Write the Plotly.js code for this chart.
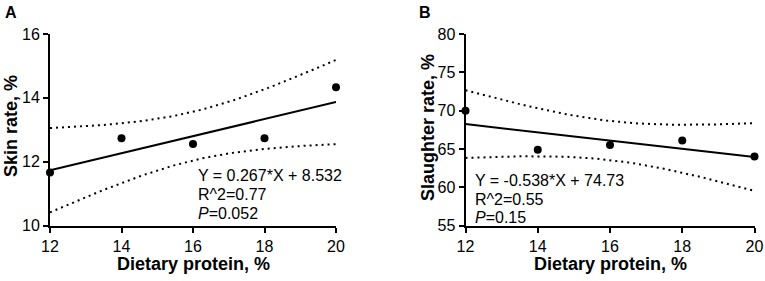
<!DOCTYPE html>
<html>
<head>
<meta charset="utf-8">
<script src="https://cdn.plot.ly/plotly-3.0.1.min.js"></script>
<style>
html,body{margin:0;padding:0;background:#fff;}
#chart{width:765px;height:281px;}
</style>
</head>
<body>
<div id="chart"></div>
<script>
// ---- data ----
const proteinLevels = [12, 14, 16, 18, 20];
const skinRate = [11.66, 12.73, 12.55, 12.73, 14.33];
const slaughterRate = [69.97, 64.9, 65.5, 66.1, 64.0];

const panelLabels = ['A', 'B'];
const xTitle = 'Dietary protein, %';
const yTitles = ['Skin rate, %', 'Slaughter rate, %'];
const statsA = ['Y = 0.267*X + 8.532', 'R^2=0.77', '<i>P</i>=0.052'];
const statsB = ['Y = -0.538*X + 74.73', 'R^2=0.55', '<i>P</i>=0.15'];
const xTicks = [12, 14, 16, 18, 20];
const yTicksA = [10, 12, 14, 16];
const yTicksB = [55, 60, 65, 70, 75, 80];

// ---- linear regression with 95% confidence band (t, df=3) ----
const T_975_DF3 = 3.182;
function fit(x, y) {
  const n = x.length;
  const mx = x.reduce((a, b) => a + b, 0) / n;
  const my = y.reduce((a, b) => a + b, 0) / n;
  let sxx = 0, sxy = 0;
  for (let i = 0; i < n; i++) { sxx += (x[i] - mx) ** 2; sxy += (x[i] - mx) * (y[i] - my); }
  const b = sxy / sxx, a = my - b * mx;
  let sse = 0;
  for (let i = 0; i < n; i++) sse += (y[i] - (a + b * x[i])) ** 2;
  const s = Math.sqrt(sse / (n - 2));
  const gx = [], gy = [], lo = [], hi = [];
  const x0 = Math.min(...x), x1 = Math.max(...x);
  const steps = 80;
  for (let k = 0; k <= steps; k++) {
    const xv = x0 + (x1 - x0) * k / steps;
    const yv = a + b * xv;
    const hw = T_975_DF3 * s * Math.sqrt(1 / n + (xv - mx) ** 2 / sxx);
    gx.push(xv); gy.push(yv); lo.push(yv - hw); hi.push(yv + hw);
  }
  return {gx, gy, lo, hi};
}

function traces(x, y, xa, ya) {
  const f = fit(x, y);
  const dotted = {color: '#000', width: 2, dash: '2px,4px'};
  return [
    {x: f.gx, y: f.hi, xaxis: xa, yaxis: ya, mode: 'lines', line: dotted, cliponaxis: false, hoverinfo: 'skip'},
    {x: f.gx, y: f.lo, xaxis: xa, yaxis: ya, mode: 'lines', line: dotted, cliponaxis: false, hoverinfo: 'skip'},
    {x: [f.gx[0], f.gx[f.gx.length - 1]], y: [f.gy[0], f.gy[f.gy.length - 1]], xaxis: xa, yaxis: ya,
     mode: 'lines', line: {color: '#000', width: 2}, cliponaxis: false},
    {x: x, y: y, xaxis: xa, yaxis: ya, mode: 'markers', marker: {color: '#000', size: 8},
     cliponaxis: false}
  ];
}

const data = [].concat(
  traces(proteinLevels, skinRate, 'x', 'y'),
  traces(proteinLevels, slaughterRate, 'x2', 'y2')
);

const W = 765, H = 281;
const px = v => v / W, py = v => 1 - v / H;
const FONT = 'Liberation Sans, Arial, sans-serif';

function axisStyle(range, ticks, domain) {
  return {
    range: range, domain: domain, tickmode: 'array', tickvals: ticks, ticktext: ticks.map(String),
    showline: true, linecolor: '#000', linewidth: 2, mirror: false,
    ticks: 'outside', ticklen: 5, tickwidth: 2, tickcolor: '#000',
    showgrid: false, zeroline: false, fixedrange: true,
    tickfont: {family: FONT, size: 16, color: '#000'}
  };
}

const yDom = [py(225.5), py(34)];
const layout = {
  width: W, height: H,
  margin: {l: 0, r: 0, t: 0, b: 0},
  paper_bgcolor: '#fff', plot_bgcolor: '#fff',
  showlegend: false,
  xaxis: Object.assign(axisStyle([12, 20], xTicks, [px(50), px(336)]), {anchor: 'y'}),
  yaxis: Object.assign(axisStyle([10, 16], yTicksA, yDom), {anchor: 'x'}),
  xaxis2: Object.assign(axisStyle([12, 20], xTicks, [px(465.5), px(754.5)]), {anchor: 'y2'}),
  yaxis2: Object.assign(axisStyle([55, 80], yTicksB, yDom), {anchor: 'x2'}),
  annotations: []
};

const ann = layout.annotations;
const bold = (t) => '<b>' + t + '</b>';
// panel letters
ann.push({text: bold(panelLabels[0]), x: px(11), y: py(13), xref: 'paper', yref: 'paper', showarrow: false,
  xanchor: 'center', yanchor: 'middle', font: {family: FONT, size: 16, color: '#000'}});
ann.push({text: bold(panelLabels[1]), x: px(425), y: py(13), xref: 'paper', yref: 'paper', showarrow: false,
  xanchor: 'center', yanchor: 'middle', font: {family: FONT, size: 16, color: '#000'}});
// x titles
[[193], [610]].forEach(([cx]) => ann.push({text: bold(xTitle), x: px(cx), y: py(264), xref: 'paper', yref: 'paper',
  showarrow: false, xanchor: 'center', yanchor: 'middle', font: {family: FONT, size: 18, color: '#000'}}));
// y titles
ann.push({text: bold(yTitles[0]), x: px(11), y: py(126), xref: 'paper', yref: 'paper', showarrow: false,
  textangle: -90, xanchor: 'center', yanchor: 'middle', font: {family: FONT, size: 18, color: '#000'}});
ann.push({text: bold(yTitles[1]), x: px(428), y: py(128), xref: 'paper', yref: 'paper', showarrow: false,
  textangle: -90, xanchor: 'center', yanchor: 'middle', font: {family: FONT, size: 18, color: '#000'}});
// statistics text
statsA.forEach((t, i) => ann.push({text: t, x: px(196), y: py(175 + i * 19), xref: 'paper', yref: 'paper',
  showarrow: false, xanchor: 'left', yanchor: 'middle', font: {family: FONT, size: 16, color: '#000'}}));
statsB.forEach((t, i) => ann.push({text: t, x: px(473), y: py(180 + i * 19), xref: 'paper', yref: 'paper',
  showarrow: false, xanchor: 'left', yanchor: 'middle', font: {family: FONT, size: 16, color: '#000'}}));

Plotly.newPlot('chart', data, layout, {staticPlot: true, displayModeBar: false});
</script>
</body>
</html>
